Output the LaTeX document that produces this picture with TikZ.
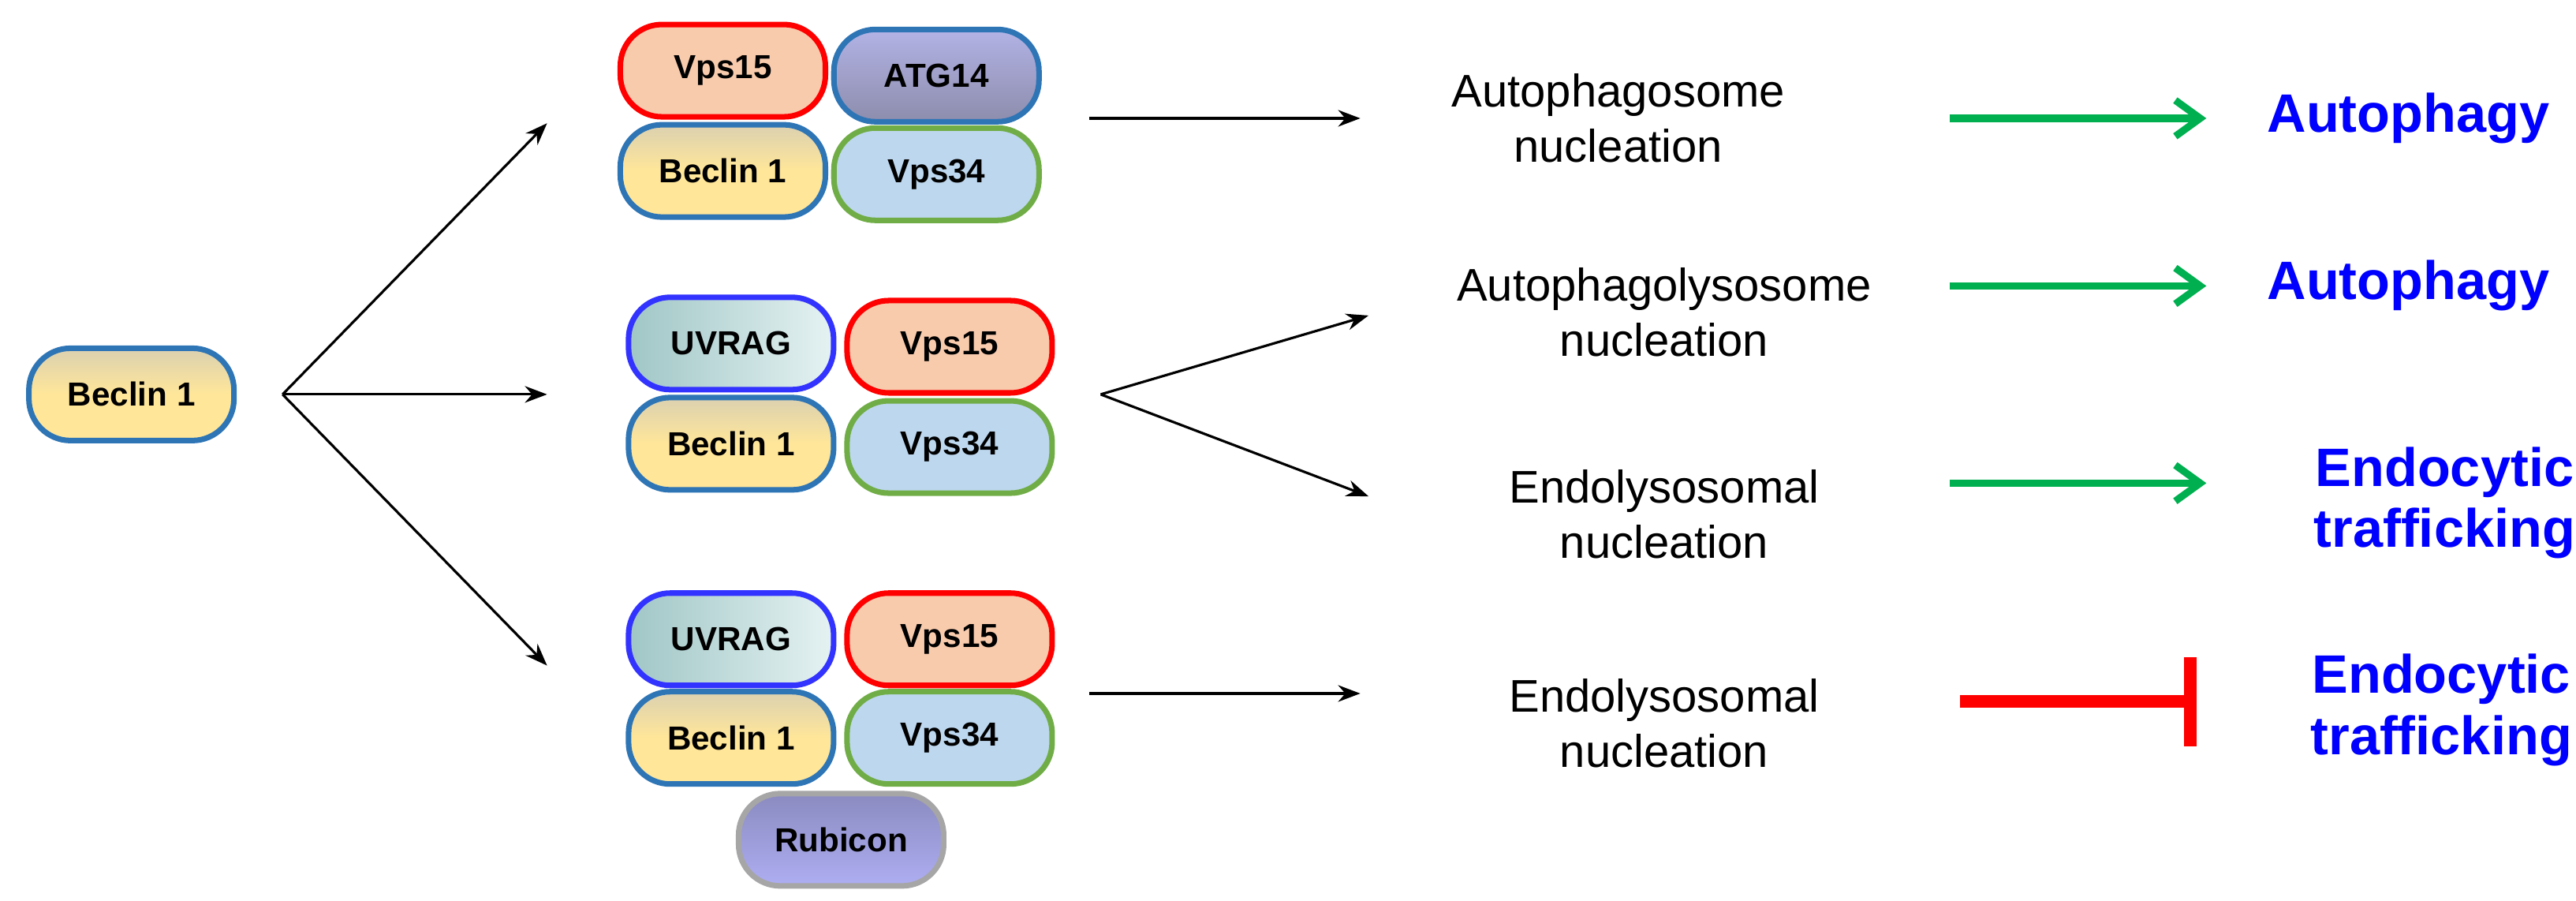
\documentclass[tikz,border=0pt]{standalone}
\usepackage{fontspec}
\setmainfont{Liberation Sans}
\usetikzlibrary{arrows.meta}
\definecolor{bb}{HTML}{2E75B6}
\definecolor{bl}{HTML}{FFE699}
\definecolor{pk}{HTML}{F8CBAD}
\definecolor{lb}{HTML}{BDD7EE}
\definecolor{gr}{HTML}{70AD47}
\definecolor{tb}{HTML}{0000FF}
\begin{document}
\begin{tikzpicture}[x=0.02083cm,y=-0.02083cm,
 box/.style={draw,line width=2pt,rounded corners=15pt,minimum width=2.6cm,minimum height=1.17cm,font=\fontsize{12}{13}\selectfont\bfseries,inner sep=0pt},
 bec/.style={box,draw=bb,top color=bl!60!gray!70,bottom color=bl,middle color=bl},
 v15/.style={box,draw=red,fill=pk},
 v34/.style={box,draw=gr,fill=lb},
 atg/.style={box,draw=bb,top color=blue!25!white!80!gray,bottom color=blue!20!gray!90!black!70},
 uvr/.style={box,draw=blue!80!white,left color=teal!35!white!85!gray,right color=teal!10!white},
 rub/.style={box,draw=gray!70,top color=blue!30!gray!70,bottom color=blue!30!white!90!gray},
 lab/.style={align=center,font=\fontsize{16.5}{20}\selectfont},
 outc/.style={align=center,text=tb,font=\fontsize{19.5}{22}\selectfont\bfseries},
 ar/.style={-{Stealth[length=8pt,width=6pt]},line width=0.9pt},
 gar/.style={-{Straight Barb[length=9pt,width=13pt]},line width=2.6pt,draw={rgb,255:red,0;green,176;blue,80}}]
\useasboundingbox (0,0) rectangle (1568,548);
\node[bec] (b0) at (80,240) {Beclin 1};
\coordinate (br) at (172,240);
\coordinate (t1) at (333,75);
\coordinate (t2) at (333,240);
\coordinate (t3) at (333,405);
\draw[ar] (br) -- (t1);
\draw[ar] (br) -- (t2);
\draw[ar] (br) -- (t3);
% top complex
\node[v15] (a1) at (440,43) {Vps15};
\node[atg] (a2) at (570,46) {ATG14};
\node[bec] (a3) at (440,104) {Beclin 1};
\node[v34] (a4) at (570,106) {Vps34};
% middle
\node[uvr] (m1) at (445,209) {UVRAG};
\node[v15] (m2) at (578,211) {Vps15};
\node[bec] (m3) at (445,270) {Beclin 1};
\node[v34] (m4) at (578,272) {Vps34};
% bottom
\node[uvr] (c1) at (445,389) {UVRAG};
\node[v15] (c2) at (578,389) {Vps15};
\node[bec] (c3) at (445,449) {Beclin 1};
\node[v34] (c4) at (578,449) {Vps34};
\node[rub] (c5) at (512,511) {Rubicon};
% texts
\node[lab] (l1) at (985,72) {Autophagosome\\nucleation};
\node[lab] (l2) at (1013,190) {Autophagolysosome\\nucleation};
\node[lab] (l3) at (1013,313) {Endolysosomal\\nucleation};
\node[lab] (l4) at (1013,440) {Endolysosomal\\nucleation};
\coordinate (s1) at (663,72); \coordinate (e1) at (828,72);
\draw[ar] (s1) -- (e1);
\coordinate (s2) at (670,240);
\coordinate (e2a) at (833,192); \coordinate (e2b) at (833,302);
\draw[ar] (s2) -- (e2a);
\draw[ar] (s2) -- (e2b);
\coordinate (s4) at (663,422); \coordinate (e4) at (828,422);
\draw[ar] (s4) -- (e4);
% outcomes
\node[outc] (o1) at (1466,72) {Autophagy};
\node[outc] (o2) at (1466,174) {Autophagy};
\node[outc] (o3) at (1488,306) {Endocytic\\trafficking};
\node[outc] (o4) at (1486,432) {Endocytic\\trafficking};
\coordinate (g1) at (1187,72); \coordinate (h1) at (1343,72);
\coordinate (g2) at (1187,174); \coordinate (h2) at (1343,174);
\coordinate (g3) at (1187,294); \coordinate (h3) at (1343,294);
\draw[gar] (g1) -- (h1);
\draw[gar] (g2) -- (h2);
\draw[gar] (g3) -- (h3);
\coordinate (r1) at (1193,427); \coordinate (r2) at (1337,427);
\draw[line width=4.5pt,red,-{Bar[width=32pt,line width=4.5pt]}] (r1) -- (r2);
\end{tikzpicture}
\end{document}
